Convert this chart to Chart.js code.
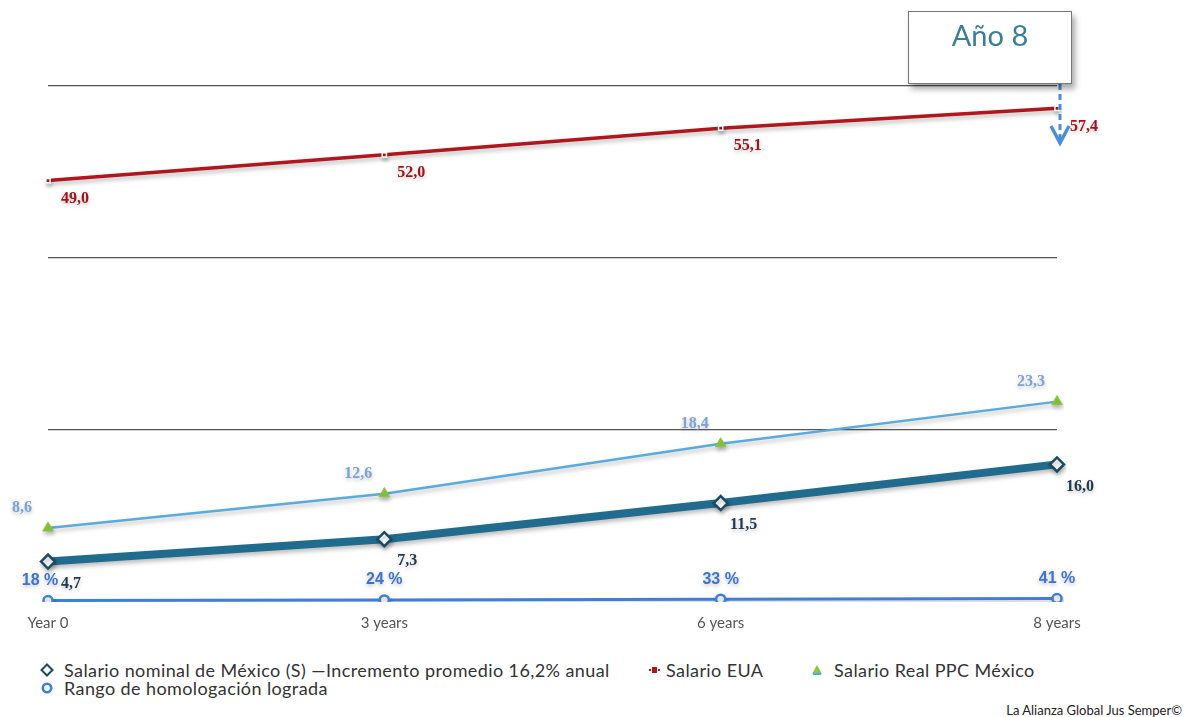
<!DOCTYPE html>
<html>
<head>
<meta charset="utf-8">
<script src="https://cdn.jsdelivr.net/npm/chart.js@4/dist/chart.umd.min.js"></script>
<style>
  html, body { margin: 0; padding: 0; background: #fff; }
  #wrap { position: relative; width: 1187px; height: 717px; overflow: hidden; font-family: Lato, "Open Sans", sans-serif; }
  #c { position: absolute; left: 0; top: 0; }
  #anio { position: absolute; left: 908px; top: 11px; width: 162px; height: 71px; background: #fff;
    border: 1px solid #777; box-shadow: 3px 5px 6px rgba(0,0,0,.35); color: #3a7e98;
    font: 29px Lato, sans-serif; text-align: center; line-height: 46px; }
  .lg { position: absolute; font-size: 18px; letter-spacing: .4px; color: #333; white-space: nowrap; line-height: 18px; }
  .lg svg { position: absolute; top: 2px; }
  #credit { position: absolute; right: 5px; top: 702px; font-size: 13px; color: #222; }
</style>
</head>
<body>
<div id="wrap">
  <canvas id="c" width="1187" height="654"></canvas>
  <div id="anio">Año 8</div>
  <div id="legend"></div>
  <div id="credit">La Alianza Global Jus Semper©</div>
</div>
<script>
(function () {
  "use strict";
  var labels = ["Year 0", "3 years", "6 years", "8 years"];
  var nominalMx = [4.7, 7.3, 11.5, 16.0];
  var salarioEua = [49.0, 52.0, 55.1, 57.4];
  var realPpcMx = [8.6, 12.6, 18.4, 23.3];
  var homologPct = [18, 24, 33, 41];

  function fmt(n) { return n.toFixed(1).replace(".", ","); }

  var datasets = [
    { label: "Salario nominal de México (S)  —Incremento promedio 16,2% anual", data: nominalMx,
      borderColor: "#216c8e", borderWidth: 8, pointStyle: "rectRot", pointRadius: 7,
      pointBackgroundColor: "#fff", pointBorderColor: "#1b4a63", pointBorderWidth: 2.5,
      lbl: { dx: 23, dy: 22, color: "#1e3a4c", font: "bold 16px 'Liberation Serif', serif", text: fmt } },
    { label: "Salario EUA", data: salarioEua,
      borderColor: "#b0161c", borderWidth: 3.5, pointStyle: "rect", pointRadius: 3,
      pointBackgroundColor: "#b0161c", pointBorderColor: "#fff", pointBorderWidth: 1.5,
      lbl: { dx: 27, dy: 18, color: "#a3141a", font: "bold 16px 'Liberation Serif', serif", text: fmt } },
    { label: "Salario Real PPC México", data: realPpcMx,
      borderColor: "#58abdc", borderWidth: 2.5, pointStyle: "triangle", pointRadius: 6,
      pointBackgroundColor: "#8dc63f", pointBorderColor: "#8dc63f", pointBorderWidth: 1,
      lbl: { dx: -26, dy: -20, color: "#7aa2dc", font: "bold 16px 'Liberation Serif', serif", text: fmt } },
    { label: "Rango de homologación lograda", data: homologPct.map(function (p) { return p / 100; }),
      borderColor: "#3f7fd9", borderWidth: 3, pointStyle: "circle", pointRadius: 4.5,
      pointBackgroundColor: "#fff", pointBorderColor: "#3f7fd9", pointBorderWidth: 2.5,
      lbl: { dx: 0, dy: -20, dx0: -8, color: "#3a72d6", font: "bold 16px 'Liberation Sans', Arial, sans-serif",
        text: function (v, i) { return homologPct[i] + " %"; } } }
  ];

  // soft drop shadow under the series, like the original
  var shadow = {
    id: "shadow",
    beforeDatasetDraw: function (chart) {
      var ctx = chart.ctx; ctx.save();
      ctx.shadowColor = "rgba(0,0,0,.25)"; ctx.shadowBlur = 4; ctx.shadowOffsetX = 1; ctx.shadowOffsetY = 3;
    },
    afterDatasetDraw: function (chart) { chart.ctx.restore(); }
  };

  var valueLabels = {
    id: "valueLabels",
    afterDatasetsDraw: function (chart) {
      var ctx = chart.ctx;
      chart.data.datasets.forEach(function (ds, di) {
        var meta = chart.getDatasetMeta(di), o = ds.lbl;
        meta.data.forEach(function (pt, i) {
          ctx.save();
          ctx.font = o.font; ctx.fillStyle = o.color; ctx.textAlign = "center"; ctx.textBaseline = "middle";
          ctx.shadowColor = "rgba(0,0,0,.25)"; ctx.shadowBlur = 4; ctx.shadowOffsetY = 2;
          var dx = (i === 0 && o.dx0 != null) ? o.dx0 : o.dx;
          ctx.fillText(o.text(ds.data[i], i), pt.x + dx, pt.y + o.dy);
          ctx.restore();
        });
      });
    }
  };

  // dashed arrow from the "Año 8" box down to the last point
  var arrow = {
    id: "arrow",
    afterDraw: function (chart) {
      var ctx = chart.ctx, x = chart.scales.x.getPixelForValue(3) + 3;
      ctx.save();
      ctx.strokeStyle = "#4a8fdc"; ctx.lineWidth = 3; ctx.setLineDash([6, 4]);
      ctx.beginPath(); ctx.moveTo(x, 84); ctx.lineTo(x, 140); ctx.stroke();
      ctx.setLineDash([]); ctx.lineWidth = 3.5;
      ctx.beginPath(); ctx.moveTo(x - 9, 126); ctx.lineTo(x, 143); ctx.lineTo(x + 9, 126); ctx.stroke();
      ctx.restore();
    }
  };

  new Chart(document.getElementById("c"), {
    type: "line",
    data: { labels: labels, datasets: datasets },
    plugins: [shadow, valueLabels, arrow],
    options: {
      responsive: false, animation: false,
      layout: { autoPadding: false, padding: { left: 48, right: 130, top: 0, bottom: 10 } },
      plugins: { legend: { display: false }, tooltip: { enabled: false } },
      scales: {
        x: { offset: false, grid: { display: false, drawTicks: false }, border: { display: false },
          ticks: { padding: 12, color: "#555", font: { family: "Lato", size: 15 } } },
        y: { min: 0, max: 70, display: true,
          ticks: { display: false, stepSize: 10 },
          border: { display: false },
          grid: { drawTicks: false, lineWidth: 1.2,
            color: function (c) { var v = c.tick.value; return (v === 20 || v === 40 || v === 60) ? "#555" : "rgba(0,0,0,0)"; } } }
      }
    }
  });

  // legend, markers taken from the dataset styles
  function marker(ds) {
    var s = '<svg width="14" height="14" viewBox="0 0 14 14">';
    if (ds.pointStyle === "rectRot") s += '<path d="M7 1.5 L12.5 7 L7 12.5 L1.5 7Z" fill="#fff" stroke="' + ds.pointBorderColor + '" stroke-width="2"/>';
    else if (ds.pointStyle === "rect") s += '<rect x="2" y="6" width="2" height="2" fill="' + ds.borderColor + '"/><rect x="5" y="4" width="5" height="6" fill="' + ds.borderColor + '"/><rect x="11" y="6" width="2" height="2" fill="' + ds.borderColor + '"/>';
    else if (ds.pointStyle === "triangle") s += '<path d="M7 2 L12 11 L2 11Z" fill="' + ds.pointBackgroundColor + '"/><rect x="3" y="10" width="8" height="2" fill="#58abdc"/>';
    else s += '<circle cx="7" cy="7" r="4.2" fill="#fff" stroke="' + ds.pointBorderColor + '" stroke-width="2.6"/>';
    return s + "</svg>";
  }
  var pos = [[40, 661], [647, 661], [810, 661], [40, 679]];
  document.getElementById("legend").innerHTML = datasets.map(function (ds, i) {
    return '<div class="lg" style="left:' + pos[i][0] + 'px;top:' + pos[i][1] + 'px">' + marker(ds) +
      '<span style="margin-left:' + (i === 1 ? 19 : 24) + 'px">' + ds.label + "</span></div>";
  }).join("");
})();
</script>
</body>
</html>
